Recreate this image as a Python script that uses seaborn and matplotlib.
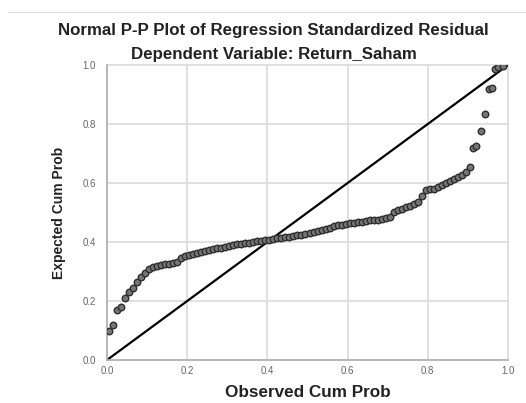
import matplotlib
matplotlib.use("Agg")
import matplotlib.pyplot as plt
import pandas as pd
import seaborn as sns
from matplotlib.lines import Line2D

observed_cum_prob = [
    0.005, 0.015, 0.025, 0.035, 0.045, 0.055, 0.065, 0.075, 0.085, 0.095,
    0.105, 0.115, 0.125, 0.135, 0.145, 0.155, 0.165, 0.175, 0.185, 0.195,
    0.205, 0.215, 0.225, 0.235, 0.245, 0.255, 0.265, 0.275, 0.285, 0.295,
    0.305, 0.315, 0.325, 0.335, 0.345, 0.355, 0.365, 0.375, 0.385, 0.395,
    0.405, 0.415, 0.425, 0.435, 0.445, 0.455, 0.465, 0.475, 0.485, 0.495,
    0.505, 0.515, 0.525, 0.535, 0.545, 0.555, 0.565, 0.575, 0.585, 0.595,
    0.605, 0.615, 0.625, 0.635, 0.645, 0.655, 0.665, 0.675, 0.685, 0.695,
    0.705, 0.715, 0.725, 0.735, 0.745, 0.755, 0.765, 0.775, 0.785, 0.795,
    0.805, 0.815, 0.825, 0.835, 0.845, 0.855, 0.865, 0.875, 0.885, 0.895,
    0.905, 0.913, 0.920, 0.932, 0.943, 0.953, 0.959, 0.968, 0.976, 0.987,
]
expected_cum_prob = [
    0.100, 0.120, 0.170, 0.180, 0.210, 0.230, 0.245, 0.265, 0.280, 0.295,
    0.307, 0.315, 0.318, 0.321, 0.324, 0.327, 0.330, 0.333, 0.345, 0.353,
    0.357, 0.360, 0.364, 0.367, 0.370, 0.373, 0.376, 0.378, 0.381, 0.384,
    0.387, 0.390, 0.392, 0.394, 0.396, 0.398, 0.400, 0.402, 0.404, 0.406,
    0.408, 0.410, 0.412, 0.414, 0.416, 0.418, 0.421, 0.423, 0.425, 0.427,
    0.430, 0.434, 0.438, 0.441, 0.445, 0.449, 0.453, 0.456, 0.459, 0.461,
    0.463, 0.465, 0.467, 0.469, 0.471, 0.473, 0.474, 0.476, 0.478, 0.481,
    0.485, 0.502, 0.507, 0.512, 0.517, 0.522, 0.528, 0.537, 0.555, 0.575,
    0.578, 0.580, 0.585, 0.592, 0.600, 0.607, 0.614, 0.620, 0.628, 0.638,
    0.655, 0.717, 0.727, 0.776, 0.834, 0.918, 0.921, 0.988, 0.994, 0.998,
]
ref_line = [0.0, 1.0]
ticks = [0.0, 0.2, 0.4, 0.6, 0.8, 1.0]
tick_labels = ["0.0", "0.2", "0.4", "0.6", "0.8", "1.0"]

title_1 = "Normal P-P Plot of Regression Standardized Residual"
title_2 = "Dependent Variable: Return_Saham"

sns.set_style("whitegrid", {"grid.color": "#dcdcdc", "axes.edgecolor": "#b0b0b0"})
plt.rcParams["font.family"] = ["Liberation Sans", "DejaVu Sans"]

df = pd.DataFrame({"obs": observed_cum_prob, "exp": expected_cum_prob})
ref = pd.DataFrame({"x": ref_line, "y": ref_line})

fig = plt.figure(figsize=(5.26, 4.03), dpi=100)
ax = fig.add_axes([107 / 526, 1 - 360 / 403, 401 / 526, 295 / 403])

sns.lineplot(data=ref, x="x", y="y", ax=ax, color="black", lw=1.6, zorder=2)
sns.scatterplot(data=df, x="obs", y="exp", ax=ax, s=22, color="#767676",
                edgecolor="#2e2e2e", linewidth=1.0, zorder=3)

ax.set_xlim(0, 1)
ax.set_ylim(0, 1)
ax.set_xticks(ticks)
ax.set_yticks(ticks)
ax.set_xticklabels(tick_labels)
ax.set_yticklabels(tick_labels)
ax.tick_params(axis="both", length=0, labelsize=7, labelcolor="#666666")
ax.tick_params(axis="x", pad=4)
ax.tick_params(axis="y", pad=8)
ax.grid(True, lw=1.2)
for gl in ax.get_xgridlines() + ax.get_ygridlines():
    gl.set_clip_on(False)
for side in ["top", "right"]:
    ax.spines[side].set_visible(False)
for side in ["left", "bottom"]:
    ax.spines[side].set_linewidth(1.2)

ax.set_xlabel("Observed Cum Prob", fontsize=12.3, fontweight="bold", labelpad=7,
              color="#222222")
ax.set_ylabel("Expected Cum Prob", fontsize=10, fontweight="bold", labelpad=12,
              color="#222222")

fig.text(273 / 526, 1 - 30 / 403, title_1, ha="center", va="center",
         fontsize=12.2, fontweight="bold", color="#222222")
fig.text(274 / 526, 1 - 54 / 403, title_2, ha="center", va="center",
         fontsize=12.2, fontweight="bold", color="#222222")
fig.add_artist(Line2D([8 / 526, 1.0], [1 - 12 / 403] * 2, color="#e0e0e0", lw=0.8))

fig.savefig("out.png", dpi=100)
